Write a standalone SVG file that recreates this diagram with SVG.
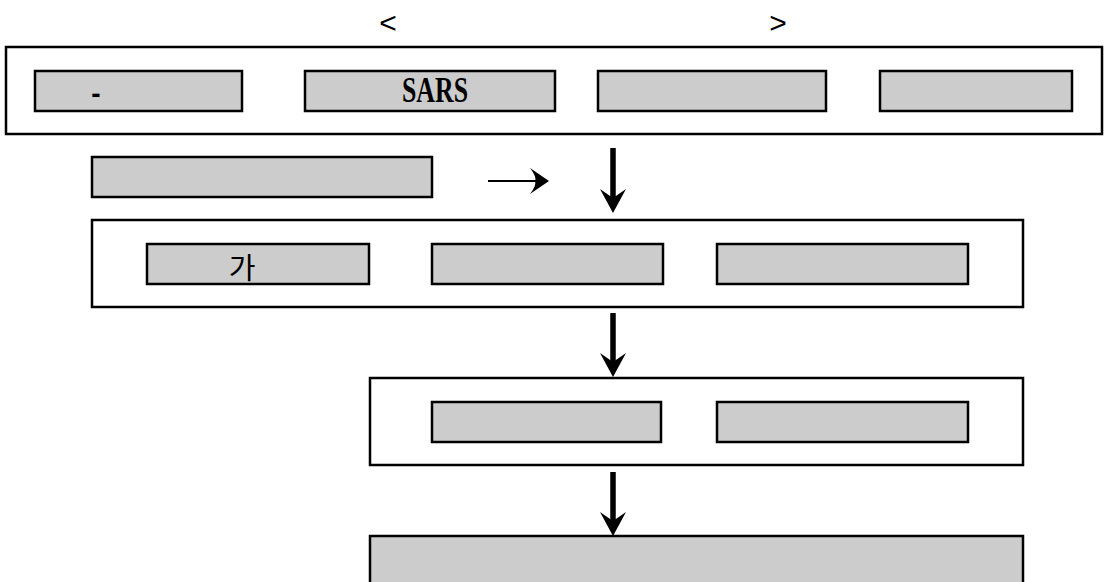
<svg xmlns="http://www.w3.org/2000/svg" width="1104" height="582" viewBox="0 0 1104 582">
<style>
.frame{fill:#ffffff;stroke:#000;stroke-width:2.5}
.box{fill:#cccccc;stroke:#000;stroke-width:2.5}
.t{font-family:"Liberation Sans","Noto Sans CJK KR",sans-serif;fill:#000}
.shaft{stroke:#000;stroke-width:5.5;fill:none}
.head{fill:#000}
</style>
<rect width="1104" height="582" fill="#fff"/>
<text class="t" x="388" y="33" font-size="30" text-anchor="middle">&lt;</text>
<text class="t" x="778" y="33" font-size="30" text-anchor="middle">&gt;</text>
<g id="group1">
<rect class="frame" x="6" y="47" width="1096" height="87"/>
<g id="n1"><rect class="box" x="35" y="71" width="207" height="40"/>
<text class="t" x="96" y="103" font-size="28" font-weight="bold" text-anchor="middle">-</text></g>
<g id="n2"><rect class="box" x="305" y="71" width="250" height="40"/>
<text x="402" y="102" font-family="Liberation Serif,serif" font-weight="bold" font-size="35" textLength="66" lengthAdjust="spacingAndGlyphs">SARS</text></g>
<g id="n3"><rect class="box" x="598" y="71" width="228" height="40"/></g>
<g id="n4"><rect class="box" x="880" y="71" width="192" height="40"/></g>
</g>
<g id="n5"><rect class="box" x="92" y="157" width="340" height="40"/></g>
<g id="group2">
<rect class="frame" x="92" y="220" width="931" height="87"/>
<g id="n6"><rect class="box" x="147" y="244" width="222" height="40"/>
<text class="t" x="242" y="279" font-size="29" text-anchor="middle" font-family="'Noto Sans CJK KR',sans-serif">가</text></g>
<g id="n7"><rect class="box" x="432" y="244" width="231" height="40"/></g>
<g id="n8"><rect class="box" x="717" y="244" width="251" height="40"/></g>
</g>
<g id="group3">
<rect class="frame" x="370" y="378" width="653" height="87"/>
<g id="n9"><rect class="box" x="432" y="402" width="229" height="40"/></g>
<g id="n10"><rect class="box" x="717" y="402" width="251" height="40"/></g>
</g>
<g id="n11"><rect class="box" x="370" y="536" width="653" height="60"/></g>
<g id="connectors">
<line x1="488" y1="181" x2="545" y2="181" stroke="#000" stroke-width="1.8"/>
<path d="M549,181 L530,168 Q537,177 535,181 Q537,185 530,194 Z" fill="#000"/>
<line class="shaft" x1="613" y1="148" x2="613" y2="200"/>
<path class="head" d="M613,213 L600,189 L613,198 L626,189 Z"/>
<line class="shaft" x1="613" y1="313" x2="613" y2="364"/>
<path class="head" d="M613,377 L600,353 L613,362 L626,353 Z"/>
<line class="shaft" x1="613" y1="472" x2="613" y2="523"/>
<path class="head" d="M613,536 L600,512 L613,521 L626,512 Z"/>
</g>
</svg>
